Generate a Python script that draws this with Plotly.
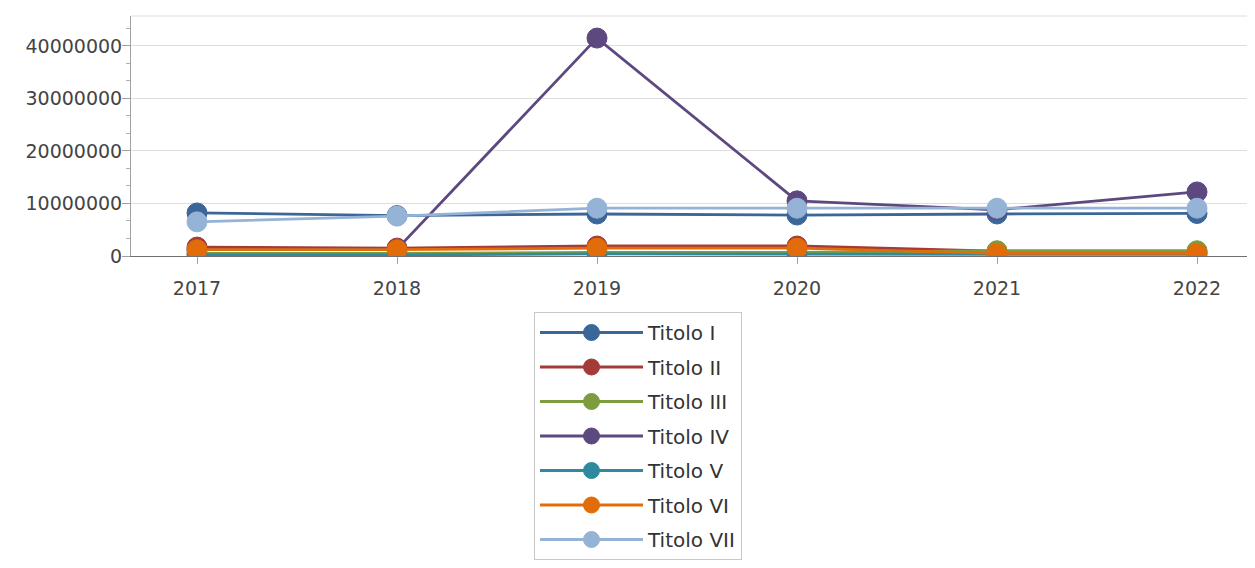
import plotly.graph_objects as go

years = ["2017", "2018", "2019", "2020", "2021", "2022"]
series_names = ["Titolo I", "Titolo II", "Titolo III", "Titolo IV", "Titolo V", "Titolo VI", "Titolo VII"]
titolo_i = [8200000, 7700000, 8000000, 7800000, 8000000, 8100000]
titolo_ii = [1700000, 1500000, 1900000, 1900000, 900000, 800000]
titolo_iii = [500000, 500000, 700000, 700000, 1000000, 1000000]
titolo_iv = [1200000, 1300000, 41500000, 10500000, 8800000, 12200000]
titolo_v = [200000, 200000, 400000, 400000, 300000, 300000]
titolo_vi = [1200000, 1200000, 1500000, 1500000, 500000, 500000]
titolo_vii = [6500000, 7600000, 9100000, 9100000, 9100000, 9100000]
colors = ["#3a6797", "#a33b36", "#7c9c3d", "#5e4880", "#2f8aa0", "#e36c0a", "#95b3d7"]
values = [titolo_i, titolo_ii, titolo_iii, titolo_iv, titolo_v, titolo_vi, titolo_vii]

fig = go.Figure()
for i, (name, vals, col) in enumerate(zip(series_names, values, colors)):
    fig.add_trace(go.Scatter(
        x=years, y=vals, name=name, mode="lines+markers",
        legendgroup=f"g{i}",
        line=dict(color=col, width=2.8),
        marker=dict(size=20, color=col, line=dict(color=col, width=1)),
    ))

# page body has an 8px margin; figure sized so page fits the 1255x568 window
font_family = "DejaVu Sans, Verdana, sans-serif"
fig.update_layout(
    width=1239, height=552,
    margin=dict(l=123, r=0, t=8, b=304, autoexpand=False),
    paper_bgcolor="white", plot_bgcolor="white",
    font=dict(family=font_family, size=19, color="#444444"),
    showlegend=True,
    legend=dict(
        x=(534 - 131) / 1116, xanchor="left",
        y=(256 - 312) / 240, yanchor="top",
        bordercolor="#c8c8c8", borderwidth=1, bgcolor="white",
        font=dict(size=20, color="#333333", family=font_family),
        tracegroupgap=5.5, itemwidth=103,
    ),
    xaxis=dict(
        type="category", range=[-0.33, 5.25],
        showgrid=False, showline=True, linecolor="#707070", linewidth=1,
        ticks="outside", ticklen=7, tickcolor="#a0a0a0",
        ticklabelstandoff=8,
        zeroline=False,
    ),
    yaxis=dict(
        range=[0, 45700000], dtick=10000000, tickformat="d",
        showgrid=True, gridcolor="#dedede", gridwidth=1,
        showline=True, linecolor="#a0a0a0", linewidth=1,
        ticks="outside", ticklen=8, tickcolor="#a0a0a0",
        ticklabelstandoff=-4,
        minor=dict(dtick=10000000 / 3, ticks="outside", ticklen=4, tickcolor="#b0b0b0", showgrid=False),
        zeroline=False,
    ),
    shapes=[dict(type="line", xref="paper", yref="paper", x0=0, x1=1, y0=1, y1=1,
                 line=dict(color="#dedede", width=1))],
)

fig.write_html("out.html")
